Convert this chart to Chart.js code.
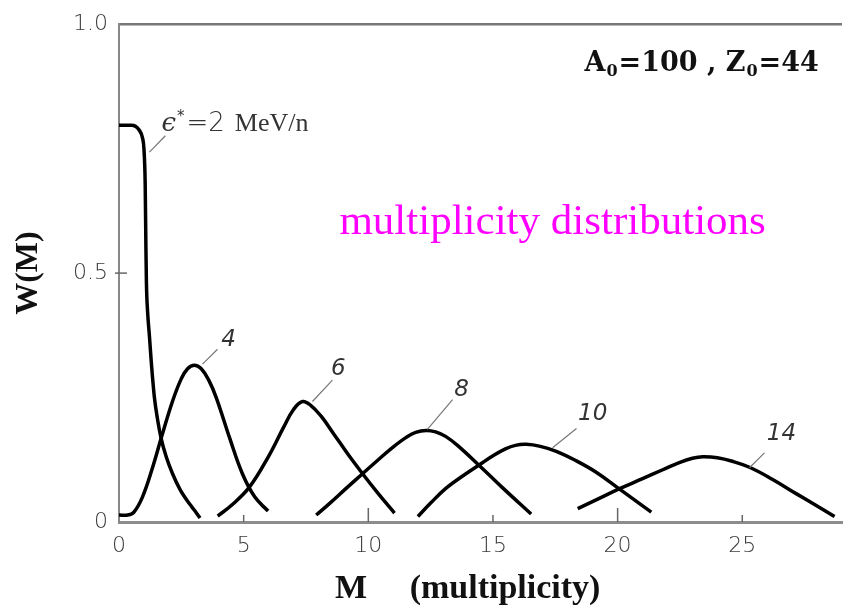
<!DOCTYPE html>
<html>
<head>
<meta charset="utf-8">
<script src="https://cdn.jsdelivr.net/npm/chart.js@4.4.0/dist/chart.umd.min.js"></script>
<style>
  html, body { margin: 0; padding: 0; background: #fff; }
  #wrap { width: 854px; height: 614px; }
</style>
</head>
<body>
<div id="wrap"><canvas id="chart" width="854" height="614"></canvas></div>
<script>
// W(M) curves, one pair of arrays per excitation energy
const curveNames = ['2', '4', '6', '8', '10', '14'];

const m2 = [0, 0.5, 0.8, 0.95, 1.0, 1.05, 1.08, 1.1, 1.15, 1.22, 1.3, 1.42, 1.55, 1.69, 1.9, 2.14, 2.45, 2.82, 3.05, 3.25];
const w2 = [0.797, 0.797, 0.788, 0.77, 0.75, 0.68, 0.55, 0.48, 0.42, 0.374, 0.318, 0.25, 0.205, 0.168, 0.13, 0.098, 0.065, 0.037, 0.022, 0.008];

const m4 = [0, 0.35, 0.6, 0.94, 1.35, 1.69, 2.15, 2.5, 2.75, 3.02, 3.3, 3.6, 3.9, 4.45, 4.95, 5.45, 5.98];
const w4 = [0.014, 0.014, 0.02, 0.05, 0.11, 0.168, 0.243, 0.288, 0.308, 0.315, 0.308, 0.285, 0.25, 0.167, 0.097, 0.05, 0.022];

const m6 = [3.96, 4.5, 5.23, 6.0, 6.6, 7.0, 7.36, 7.7, 8.1, 8.6, 9.2, 9.77, 10.4, 11.05];
const w6 = [0.012, 0.033, 0.07, 0.132, 0.19, 0.226, 0.242, 0.234, 0.213, 0.178, 0.135, 0.097, 0.057, 0.018];

const m8 = [7.91, 8.44, 9.1, 9.77, 10.4, 10.98, 11.52, 11.9, 12.32, 12.7, 13.1, 13.6, 14.46, 15.4, 16.53];
const w8 = [0.014, 0.037, 0.067, 0.097, 0.125, 0.15, 0.17, 0.18, 0.184, 0.181, 0.172, 0.153, 0.113, 0.068, 0.016];

const m10 = [11.99, 12.5, 13.12, 13.8, 14.46, 15.0, 15.5, 15.9, 16.33, 16.9, 17.54, 18.3, 19.14, 20.08, 21.35];
const w10 = [0.011, 0.038, 0.068, 0.093, 0.115, 0.133, 0.147, 0.154, 0.156, 0.152, 0.142, 0.124, 0.1, 0.066, 0.02];

const m14 = [18.4, 19.2, 20.08, 21.0, 21.81, 22.5, 23.0, 23.42, 24.0, 24.6, 25.29, 26.2, 27.16, 28.0, 28.7];
const w14 = [0.027, 0.046, 0.067, 0.087, 0.105, 0.12, 0.128, 0.131, 0.129, 0.122, 0.11, 0.086, 0.057, 0.032, 0.011];

const curveM = [m2, m4, m6, m8, m10, m14];
const curveW = [w2, w4, w6, w8, w10, w14];

// axis ticks
const xTicks = [0, 5, 10, 15, 20, 25];
const xTickLabels = ['0', '5', '10', '15', '20', '25'];
const yTicks = [0, 0.5, 1.0];
const yTickLabels = ['0', '0.5', '1.0'];

const tickFont = { family: '"DejaVu Sans", sans-serif', size: 22, weight: 200 };

const datasets = curveNames.map((name, i) => ({
    label: name,
    data: curveM[i].map((m, k) => ({ x: m, y: curveW[i][k] })),
    borderColor: '#000',
    borderWidth: 3.5,
    pointRadius: 0,
    // the 2 MeV/n curve has a sharp corner, keep it from overshooting
    cubicInterpolationMode: i === 0 ? 'monotone' : 'default',
    tension: 0.4,
    fill: false
}));

// labels and leader lines, placed in data units
const notes = [
    { text: '4',  at: [4.39, 0.366],  from: [3.95, 0.347],  to: [3.35, 0.317] },
    { text: '6',  at: [8.8, 0.307],   from: [8.56, 0.285],  to: [7.76, 0.242] },
    { text: '8',  at: [13.74, 0.265], from: [13.38, 0.246], to: [12.37, 0.186] },
    { text: '10', at: [19.0, 0.216],  from: [18.35, 0.188], to: [17.39, 0.149] },
    { text: '14', at: [26.57, 0.176], from: [25.89, 0.139], to: [25.29, 0.109] }
];

const annotations = {
    id: 'annotations',
    afterDatasetsDraw(chart) {
        const ctx = chart.ctx;
        const xs = chart.scales.x;
        const ys = chart.scales.y;
        const px = (m) => xs.getPixelForValue(m);
        const py = (w) => ys.getPixelForValue(w);
        ctx.save();

        // inward tick marks
        ctx.strokeStyle = '#666';
        ctx.lineWidth = 1.5;
        xTicks.slice(1).forEach((v) => {
            const len = (v % 10 === 0) ? 14 : 7;
            ctx.beginPath();
            ctx.moveTo(px(v), py(0));
            ctx.lineTo(px(v), py(0) - len);
            ctx.stroke();
        });
        ctx.beginPath();
        ctx.moveTo(px(0) - 4, py(0.5));
        ctx.lineTo(px(0) + 8, py(0.5));
        ctx.stroke();

        // leader lines
        ctx.strokeStyle = '#777';
        ctx.lineWidth = 1.2;
        const leaders = notes.map(n => [n.from, n.to]).concat([[[1.86, 0.776], [1.22, 0.743]]]);
        leaders.forEach(([a, b]) => {
            ctx.beginPath();
            ctx.moveTo(px(a[0]), py(a[1]));
            ctx.lineTo(px(b[0]), py(b[1]));
            ctx.stroke();
        });

        // curve numbers
        ctx.fillStyle = '#333';
        ctx.textAlign = 'center';
        ctx.textBaseline = 'middle';
        ctx.font = 'italic 200 23px "DejaVu Sans", sans-serif';
        notes.forEach(n => ctx.fillText(n.text, px(n.at[0]), py(n.at[1])));

        // epsilon label
        ctx.textAlign = 'left';
        ctx.textBaseline = 'alphabetic';
        let x = px(1.7);
        const yb = py(0.785);
        ctx.font = 'italic 26px "DejaVu Serif", serif';
        ctx.fillText('\u03f5', x, yb);
        x += ctx.measureText('\u03f5').width + 1;
        ctx.font = '15px "DejaVu Sans", sans-serif';
        ctx.fillText('*', x, yb - 10);
        x += ctx.measureText('*').width + 2;
        ctx.font = '200 26px "DejaVu Sans", sans-serif';
        ctx.fillText('=2', x, yb);
        x += ctx.measureText('=2').width + 10;
        ctx.font = '26px "Liberation Serif", serif';
        ctx.fillText('MeV/n', x, yb);

        // A0, Z0 text
        ctx.fillStyle = '#111';
        x = px(18.67);
        const yt = py(0.905);
        const big = 'bold 27px "DejaVu Serif", serif';
        const small = 'bold 16px "DejaVu Serif", serif';
        const parts = [['A', big, 0], ['0', small, 5], ['=100 , Z', big, 0], ['0', small, 5], ['=44', big, 0]];
        parts.forEach(([t, f, dy]) => {
            ctx.font = f;
            ctx.fillText(t, x, yt + dy);
            x += ctx.measureText(t).width + 1;
        });

        // magenta caption
        ctx.fillStyle = '#ff00ff';
        ctx.font = '43px "Liberation Serif", serif';
        ctx.fillText('multiplicity distributions', px(8.84), py(0.578));

        ctx.restore();
    }
};

new Chart(document.getElementById('chart'), {
    type: 'line',
    data: { datasets: datasets },
    options: {
        responsive: false,
        animation: false,
        layout: { padding: { top: 17, right: 12, left: 0, bottom: 0 } },
        plugins: {
            legend: { display: false },
            tooltip: { enabled: false }
        },
        scales: {
            x: {
                type: 'linear',
                min: 0,
                max: 29,
                afterFit: (scale) => { scale.height = 92; },
                afterBuildTicks: (scale) => { scale.ticks = xTicks.map(v => ({ value: v })); },
                grid: { display: false, drawTicks: false },
                border: { display: true, color: '#8c8c8c', width: 3 },
                ticks: {
                    color: '#3a3a3a',
                    font: tickFont,
                    padding: 11,
                    maxRotation: 0,
                    autoSkip: false,
                    callback: (v) => xTickLabels[xTicks.indexOf(v)]
                },
                title: {
                    display: true,
                    text: 'M     (multiplicity)   ',
                    color: '#111',
                    font: { family: '"Liberation Serif", serif', size: 34, weight: 'bold', lineHeight: 1 },
                    padding: { top: 0, bottom: 8 }
                }
            },
            y: {
                min: 0,
                max: 1,
                afterFit: (scale) => { scale.width = 119; },
                afterBuildTicks: (scale) => { scale.ticks = yTicks.map(v => ({ value: v })); },
                grid: {
                    drawTicks: false,
                    lineWidth: 2.5,
                    color: (c) => (c.tick && c.tick.value === 1 ? '#777' : 'rgba(0,0,0,0)')
                },
                border: { display: true, color: '#888', width: 2 },
                ticks: {
                    color: '#3a3a3a',
                    font: tickFont,
                    padding: 11,
                    callback: (v) => yTickLabels[yTicks.indexOf(v)]
                },
                title: {
                    display: true,
                    text: 'W(M)',
                    color: '#111',
                    font: { family: '"Liberation Serif", serif', size: 32, weight: 'bold', lineHeight: 1 },
                    padding: { top: 13, bottom: 0 }
                }
            }
        }
    },
    plugins: [annotations]
});
</script>
</body>
</html>
